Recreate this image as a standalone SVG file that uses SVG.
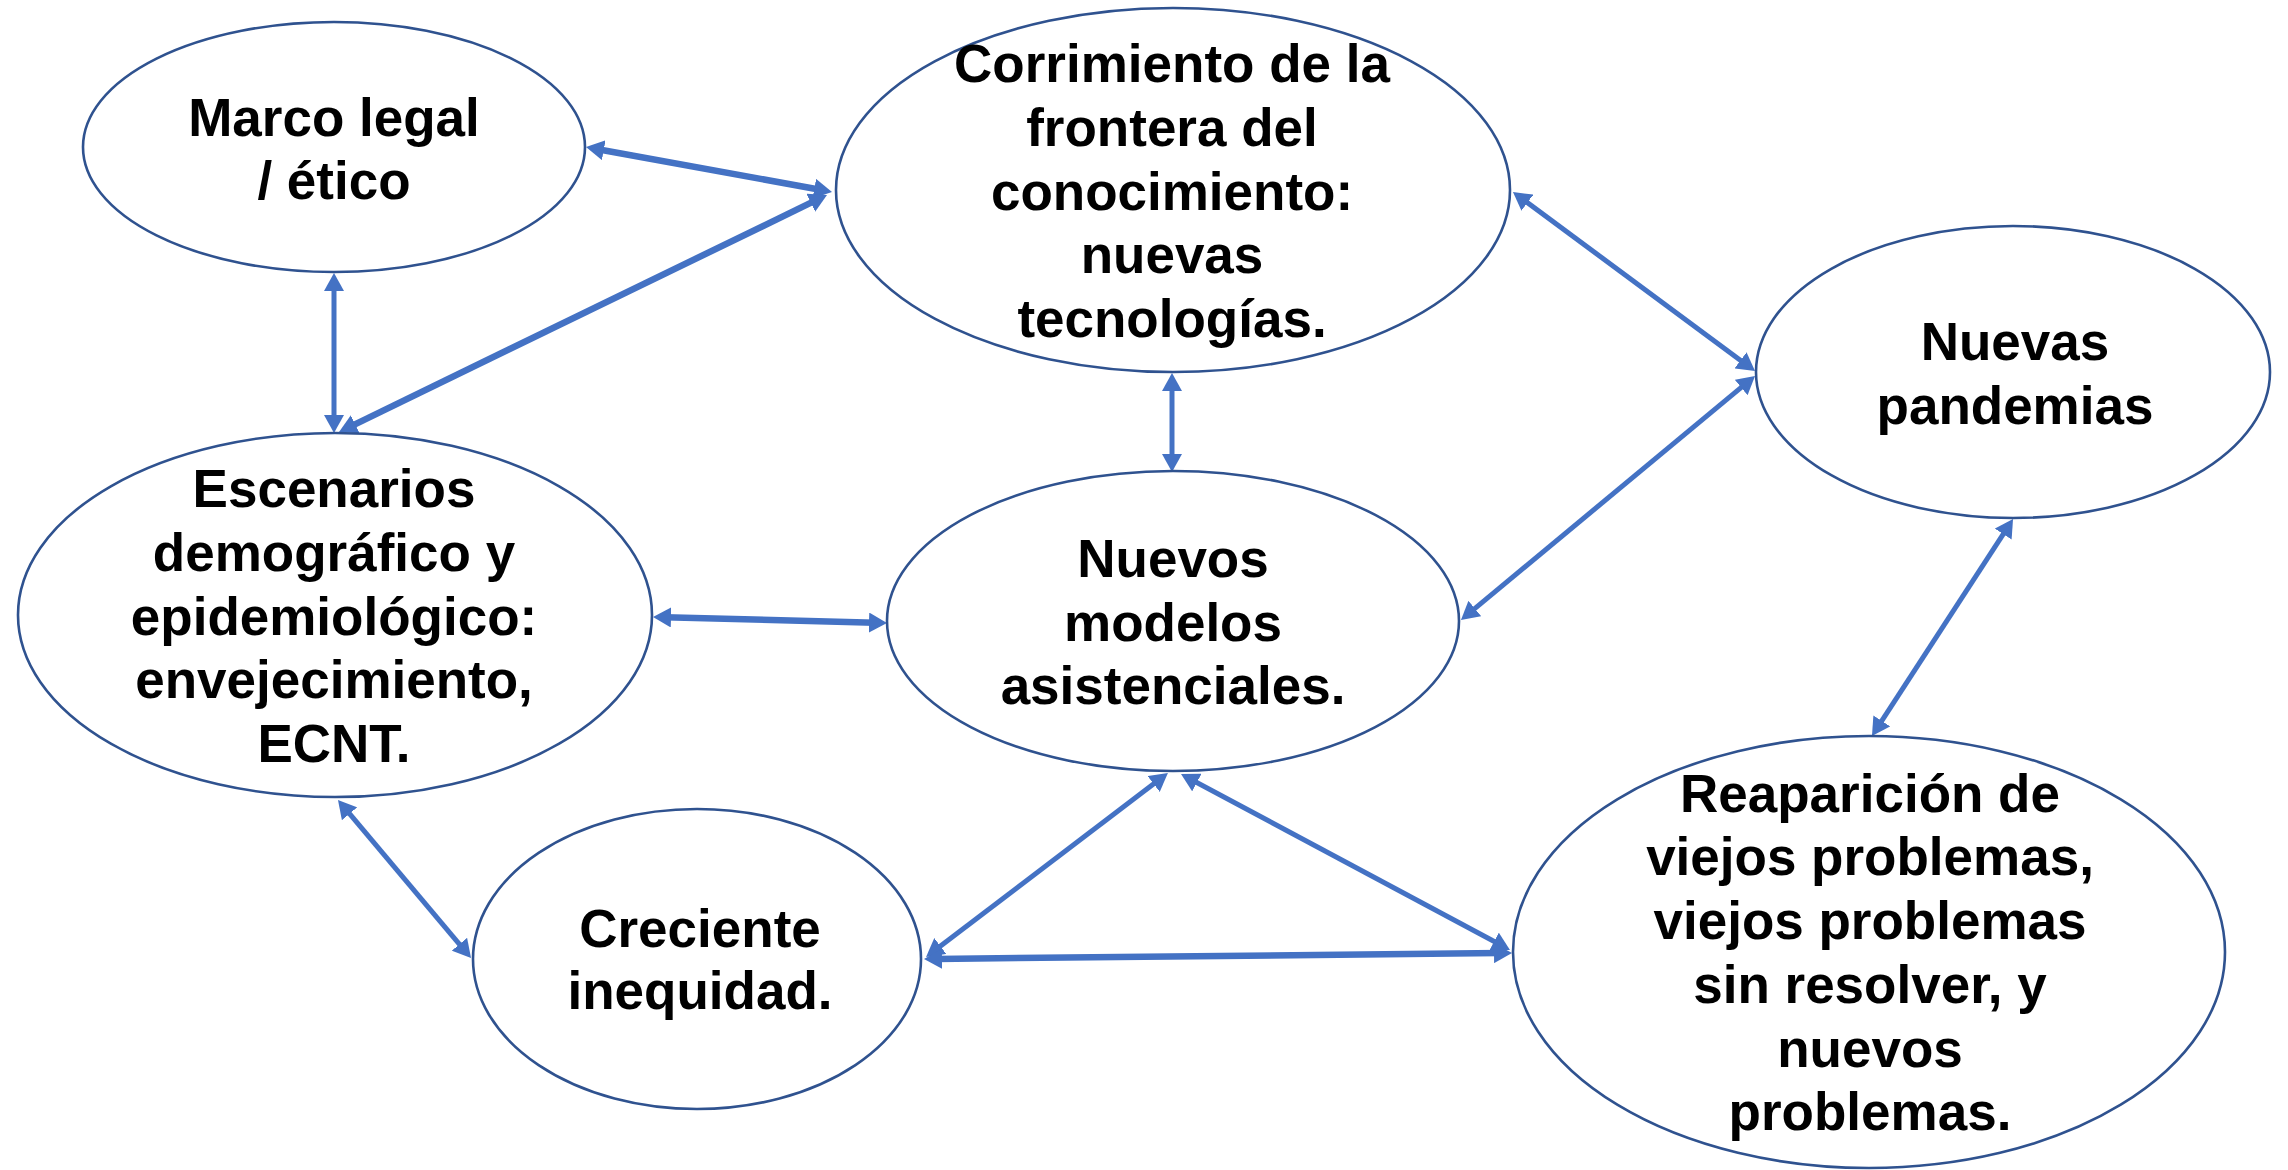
<svg xmlns="http://www.w3.org/2000/svg" width="2288" height="1170" viewBox="0 0 2288 1170">
<style>
.node{fill:#fff;stroke:#2F528F;stroke-width:2.6}
.lbl{font-family:"Liberation Sans",Arial,sans-serif;font-weight:bold;font-size:53px;fill:#000;text-anchor:middle}
.c{stroke:#4472C4;stroke-width:5;fill:none;marker-start:url(#ah);marker-end:url(#ah)}
.t{stroke-width:6.5}
</style>
<defs>
<marker id="ah" markerUnits="userSpaceOnUse" markerWidth="20" markerHeight="20" refX="6" refY="10" orient="auto-start-reverse" viewBox="0 0 20 20">
<path d="M0,0 L18,10 L0,20 z" fill="#4472C4"/>
</marker>
</defs>
<rect width="2288" height="1170" fill="#fff"/>
<g id="connectors">
<line class="c t" x1="597.8" y1="149.2" x2="820.2" y2="189.8"/>
<line class="c" x1="334" y1="285" x2="334" y2="421"/>
<line class="c t" x1="816.2" y1="200.2" x2="349.8" y2="426.8"/>
<line class="c" x1="1172" y1="385" x2="1172" y2="460"/>
<line class="c" x1="1522.6" y1="199.1" x2="1745.4" y2="363.9"/>
<line class="c" x1="1470.2" y1="612.3" x2="1745.8" y2="383.7"/>
<line class="c" x1="2006.5" y1="529.1" x2="1878.5" y2="725.9"/>
<line class="c t" x1="665" y1="617.3" x2="875" y2="622.7"/>
<line class="c" x1="345.7" y1="809.2" x2="463.3" y2="948.8"/>
<line class="c" x1="935.6" y1="949.7" x2="1158.4" y2="780.3"/>
<line class="c" x1="1191.6" y1="779.7" x2="1499.4" y2="944.3"/>
<line class="c t" x1="936" y1="958.9" x2="1500" y2="953.1"/>
</g>
<g id="marco">
<ellipse class="node" cx="334" cy="147" rx="251" ry="125"/>
<text class="lbl" x="334" y="136">Marco legal</text>
<text class="lbl" x="334" y="199">/ ético</text>
</g>
<g id="corrimiento">
<ellipse class="node" cx="1173" cy="190" rx="337" ry="182"/>
<text class="lbl" x="1172" y="82">Corrimiento de la</text>
<text class="lbl" x="1172" y="146">frontera del</text>
<text class="lbl" x="1172" y="210">conocimiento:</text>
<text class="lbl" x="1172" y="273">nuevas</text>
<text class="lbl" x="1172" y="337">tecnologías.</text>
</g>
<g id="pandemias">
<ellipse class="node" cx="2013" cy="372" rx="257" ry="146"/>
<text class="lbl" x="2015" y="360">Nuevas</text>
<text class="lbl" x="2015" y="424">pandemias</text>
</g>
<g id="escenarios">
<ellipse class="node" cx="335" cy="615" rx="317" ry="182"/>
<text class="lbl" x="334" y="507">Escenarios</text>
<text class="lbl" x="334" y="571">demográfico y</text>
<text class="lbl" x="334" y="635">epidemiológico:</text>
<text class="lbl" x="334" y="698">envejecimiento,</text>
<text class="lbl" x="334" y="762">ECNT.</text>
</g>
<g id="modelos">
<ellipse class="node" cx="1173" cy="621" rx="286" ry="150"/>
<text class="lbl" x="1173" y="577">Nuevos</text>
<text class="lbl" x="1173" y="641">modelos</text>
<text class="lbl" x="1173" y="704">asistenciales.</text>
</g>
<g id="creciente">
<ellipse class="node" cx="697" cy="959" rx="224" ry="150"/>
<text class="lbl" x="700" y="947">Creciente</text>
<text class="lbl" x="700" y="1009">inequidad.</text>
</g>
<g id="reaparicion">
<ellipse class="node" cx="1869" cy="952" rx="356" ry="216"/>
<text class="lbl" x="1870" y="812">Reaparición de</text>
<text class="lbl" x="1870" y="875">viejos problemas,</text>
<text class="lbl" x="1870" y="939">viejos problemas</text>
<text class="lbl" x="1870" y="1003">sin resolver, y</text>
<text class="lbl" x="1870" y="1067">nuevos</text>
<text class="lbl" x="1870" y="1130">problemas.</text>
</g>
</svg>
